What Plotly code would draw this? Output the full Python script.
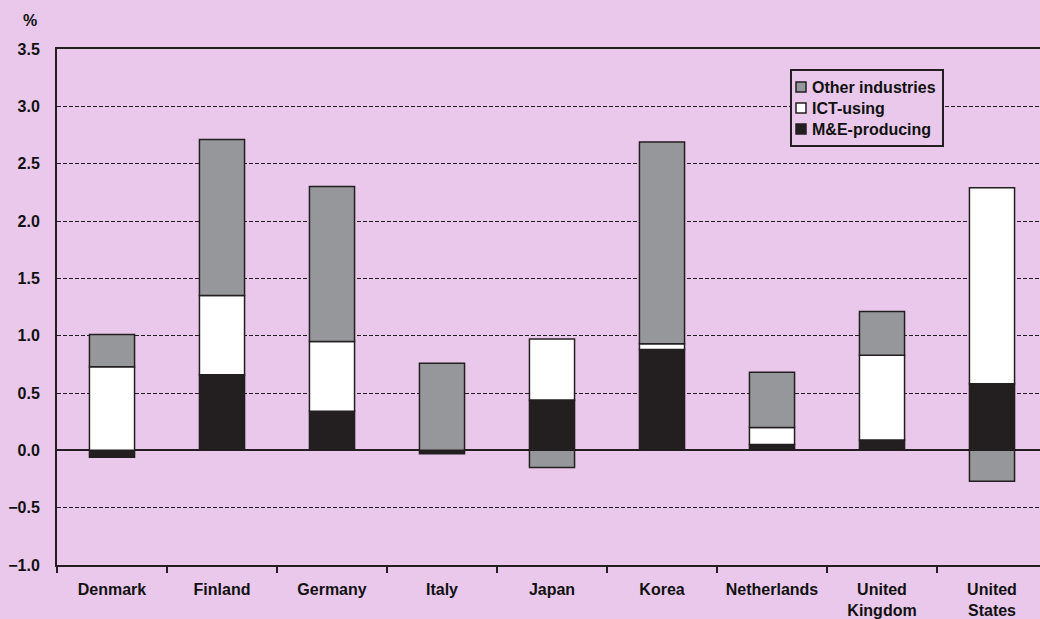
import plotly.graph_objects as go

countries = ["Denmark", "Finland", "Germany", "Italy", "Japan", "Korea",
             "Netherlands", "United<br>Kingdom", "United<br>States"]
me_producing = [-0.06, 0.66, 0.34, -0.03, 0.44, 0.88, 0.05, 0.09, 0.58]
ict_using = [0.73, 0.69, 0.61, 0.0, 0.53, 0.05, 0.15, 0.74, 1.71]
other_ind = [0.28, 1.36, 1.35, 0.76, -0.15, 1.76, 0.48, 0.38, -0.27]
y_ticks = [-1.0, -0.5, 0.0, 0.5, 1.0, 1.5, 2.0, 2.5, 3.0, 3.5]
y_tick_text = ["\u22121.0", "\u22120.5", "0.0", "0.5", "1.0", "1.5", "2.0", "2.5", "3.0", "3.5"]
legend_names = ["Other industries", "ICT-using", "M&E-producing"]

BG = "#E9C8EB"
DARK = "#231F20"
GRAY = "#96979A"
colors = {"M&E-producing": DARK, "ICT-using": "#FFFFFF", "Other industries": GRAY}

W, H = 1040, 619
L, T, B = 57, 49, 54
PW = W - L
PH = H - T - B
X0, X1 = -0.5, 8.5 - 7 / 110

fig = go.Figure()
for name, vals in [("M&E-producing", me_producing),
                   ("ICT-using", ict_using),
                   ("Other industries", other_ind)]:
    fig.add_trace(go.Bar(x=countries, y=vals, name=name,
                         marker=dict(color=colors[name], line=dict(color=DARK, width=1.5)),
                         width=0.41, showlegend=False))

fig.update_layout(
    width=W, height=H,
    paper_bgcolor=BG, plot_bgcolor=BG,
    barmode="relative",
    margin=dict(l=L, r=0, t=T, b=B),
    font=dict(family="Liberation Sans, Arial, sans-serif", size=16, color="#111111", weight="bold"),
    showlegend=False,
    xaxis=dict(type="category", range=[X0, X1], showgrid=False, zeroline=False,
               showline=True, linecolor=DARK, linewidth=2, mirror=True,
               ticks="outside", tickson="boundaries", ticklen=6, tickwidth=2,
               tickcolor=DARK, ticklabelstandoff=9),
    yaxis=dict(range=[-1.0, 3.5], tickvals=y_ticks, ticktext=y_tick_text,
               showgrid=True, gridcolor=DARK, griddash="4px,2px", gridwidth=1.2,
               zeroline=True, zerolinecolor=DARK, zerolinewidth=2,
               showline=True, linecolor=DARK, linewidth=2, ticks="",
               ticklabelstandoff=12),
)

def px(x):
    return (x - L) / PW

def py(y):
    return (H - B - y) / PH

# manual legend
fig.add_shape(type="rect", xref="paper", yref="paper", x0=px(791), x1=px(943),
              y0=py(146), y1=py(70), line=dict(color=DARK, width=2), fillcolor=BG)
rows = [87, 108, 129]
for name, yc in zip(legend_names, rows):
    fig.add_shape(type="rect", xref="paper", yref="paper", x0=px(796), x1=px(806),
                  y0=py(yc + 5), y1=py(yc - 5), line=dict(color=DARK, width=1.5),
                  fillcolor=colors[name])
    fig.add_annotation(text=name, xref="paper", yref="paper", x=px(810), y=py(yc),
                       showarrow=False, xanchor="left", yanchor="middle",
                       font=dict(size=16))

fig.add_annotation(text="%", xref="paper", yref="paper", x=px(29.5), y=py(21),
                   showarrow=False, xanchor="center", yanchor="middle", font=dict(size=16))
fig.write_html("out.html", config={"displayModeBar": False},
               post_script="document.body.style.margin='0px';document.body.style.overflow='hidden';")
